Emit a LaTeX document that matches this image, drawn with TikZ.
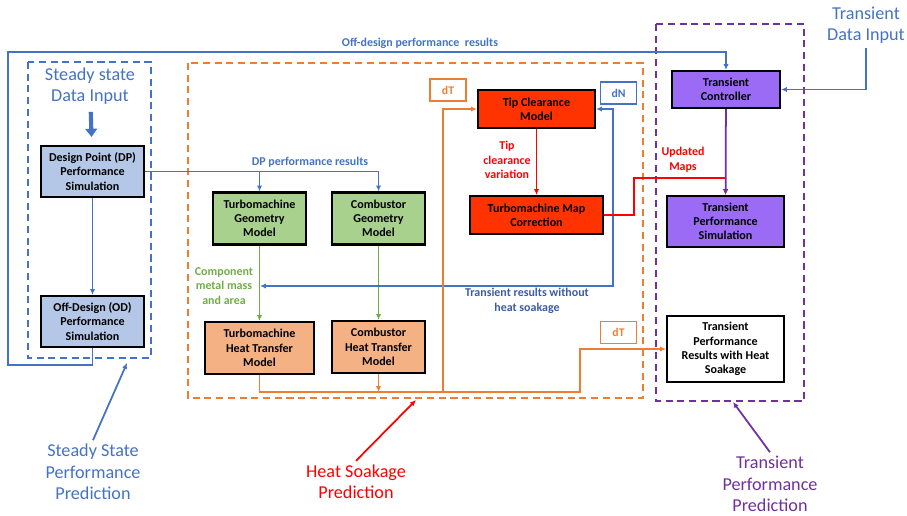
\documentclass[tikz,border=0pt]{standalone}
\usepackage{fontspec}
\setmainfont{Carlito}
\usetikzlibrary{arrows.meta}
\definecolor{lblue}{HTML}{4472C4}
\definecolor{dblue}{HTML}{3A5BA8}
\definecolor{lorange}{HTML}{ED7D31}
\definecolor{lgreen}{HTML}{70AD47}
\definecolor{lpurple}{HTML}{7030A0}
\definecolor{fblue}{HTML}{B4C7E7}
\definecolor{fgreen}{HTML}{A9D18E}
\definecolor{forange}{HTML}{F4B183}
\definecolor{fred}{HTML}{FF3300}
\definecolor{fpurple}{HTML}{9B6BF5}
\begin{document}
\begin{tikzpicture}[x=0.3mm,y=-0.3mm, >={Latex[length=5pt,width=4.5pt]},
	blk/.style={draw=black, line width=1.8pt, align=center, inner sep=1pt, font=\fontsize{10.3}{12.2}\selectfont\bfseries},
	tag/.style={draw, line width=1.5pt, minimum width=10.8mm, minimum height=6.6mm, font=\fontsize{10}{11}\selectfont\bfseries},
	lbl/.style={align=center, font=\fontsize{10.2}{12.4}\selectfont\bfseries},
	big/.style={align=center, font=\fontsize{15.5}{18.2}\selectfont},
	bline/.style={draw=lblue, line width=1.5pt},
	oline/.style={draw=lorange, line width=1.5pt},
	gline/.style={draw=lgreen, line width=1.5pt},
	rline/.style={draw=red, line width=1.5pt},
	pline/.style={draw=lpurple, line width=1.5pt},
	frame/.style={line width=1.7pt, dash pattern=on 6pt off 4pt}]
					\useasboundingbox (0,0) rectangle (907,515);

					\draw[frame, lblue] (28,62) rectangle (151,358);
					\draw[frame, lorange] (188,63) rectangle (643,398);
					\draw[frame, lpurple] (656,24) rectangle (804,401);

					\node[big, text=lblue] (ssin) at (90,86) {Steady state\\Data Input};
					\node[big, text=lblue] (tdin) at (866,25) {Transient\\Data Input};

					\node[blk, fill=fblue, minimum width=30.9mm, minimum height=15.3mm] (dp) at (92.5,171.5) {Design Point (DP)\\Performance\\Simulation};
					\node[blk, fill=fblue, minimum width=30.9mm, minimum height=15.3mm] (od) at (92.5,321.5) {Off-Design (OD)\\Performance\\Simulation};
					\node[blk, fill=fgreen, minimum width=27.9mm, minimum height=15.6mm] (tgm) at (259.5,218.5) {Turbomachine\\Geometry\\Model};
					\node[blk, fill=fgreen, minimum width=27.9mm, minimum height=15.6mm] (cgm) at (378.5,218.5) {Combustor\\Geometry\\Model};
					\node[blk, fill=forange, minimum width=32.7mm, minimum height=15.6mm] (tht) at (259.5,348) {Turbomachine\\Heat Transfer\\Model};
					\node[blk, fill=forange, minimum width=27.9mm, minimum height=15.6mm] (cht) at (378.5,347) {Combustor\\Heat Transfer\\Model};
					\node[blk, fill=fred, minimum width=35.1mm, minimum height=11.4mm] (tcm) at (536.5,109) {Tip Clearance\\Model};
					\node[blk, fill=fred, minimum width=39.9mm, minimum height=11.4mm] (tmc) at (536.5,215) {Turbomachine Map\\Correction};
					\node[blk, fill=fpurple, minimum width=32.4mm, minimum height=11.1mm] (tc) at (726,89.5) {Transient\\Controller};
					\node[blk, fill=fpurple, minimum width=35.1mm, minimum height=15.3mm] (tps) at (725.5,221.5) {Transient\\Performance\\Simulation};
					\node[blk, fill=white, minimum width=35.1mm, minimum height=19.8mm] (tpr) at (725.5,349) {Transient\\Performance\\Results with Heat\\Soakage};

					\node[tag, draw=lorange, text=lorange] (dta) at (448,90) {dT};
					\node[tag, draw=lblue, text=lblue] (dn) at (618.5,93) {dN};
					\node[tag, draw=lorange, text=lorange] (dtb) at (618.5,332.5) {dT};

					\coordinate (dpj) at (tgm.north |- dp.east);
					\coordinate (dnc) at (613,286);
					\coordinate (hsa) at (260,286);
					\coordinate (obl) at (580,392);
					\coordinate (obc) at (cht.south |- obl);
					\coordinate (obt) at (443,392);
					\coordinate (rup) at (634,178);
					\coordinate (ssb) at (127,363);
					\coordinate (hsb) at (416,400);
					\coordinate (tpb) at (733,402);

					\draw[bline, line width=3.5pt, -{Triangle[length=7pt,width=10pt]}, shorten <=1mm, shorten >=2.4mm] (ssin) -- (dp);
					\draw[bline, ->] (od.south) |- (8,365) -- (8,52) -| (tc.north);
					\draw[bline, ->] (dp.east) -| (cgm.north);
					\draw[bline, ->] (dpj) -- (tgm.north);
					\draw[bline, ->] (dp) -- (od);
					\draw[gline, ->] (tgm) -- (tht);
					\draw[gline, ->] (cgm) -- (cht);
					\draw[bline, <->] (tcm.east) -| (dnc) -- (hsa);
					\draw[oline, ->] (tht.south) |- (obl) |- (tpr.west);
					\draw[oline, ->] (cht.south) -- (obc);
					\draw[oline, ->] (obt) |- (tcm.west);
					\draw[rline, ->] (tcm) -- (tmc);
					\draw[rline, ->] (tmc.east) -| (rup) -| (tps.north);
					\draw[pline, ->] (tc) -- (tps);
					\draw[bline, ->] (tdin.south) |- (tc.east);

					\node[lbl, text=lblue] (odr) at (420,43) {Off-design performance\ \ results};
					\node[lbl, text=lblue] (dpr) at (310,162) {DP performance results};
					\node[lbl, text=lgreen] (cmm) at (224,286) {Component\\metal mass\\and area};
					\node[lbl, text=dblue] (trw) at (527,301) {Transient results without\\heat soakage};
					\node[lbl, text=red] (tcv) at (507,160) {Tip\\clearance\\variation};
					\node[lbl, text=red] (upm) at (683,160) {Updated\\Maps};

					\node[big, text=lblue] (ssp) at (93,472) {Steady State\\Performance\\Prediction};
					\node[big, text=red] (hsp) at (356,482) {Heat Soakage\\Prediction};
					\node[big, text=lpurple] (tpp) at (770,484) {Transient\\Performance\\Prediction};
					\draw[bline, ->] (ssp.north) -- (ssb);
					\draw[rline, ->] (hsp.north) -- (hsb);
					\draw[pline, ->] (tpp.north) -- (tpb);
				\end{tikzpicture}
\end{document}
